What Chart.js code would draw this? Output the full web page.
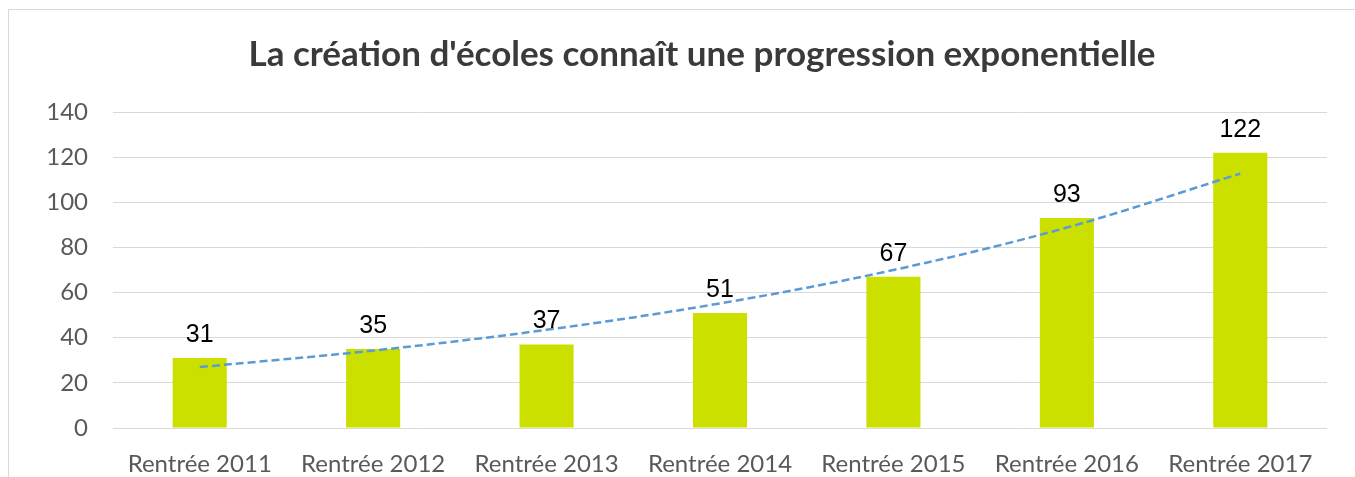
<!DOCTYPE html>
<html>
<head>
<meta charset="utf-8">
<script src="https://cdn.jsdelivr.net/npm/chart.js@4"></script>
<style>
  html, body { margin: 0; padding: 0; background: #fff; }
  #frame {
    position: absolute; left: 8px; top: 9px; width: 1400px; height: 500px;
    border-left: 1px solid #d9d9d9; border-top: 1px solid #d9d9d9;
  }
  #chart { position: absolute; left: 0; top: 0; }
</style>
</head>
<body>
<div id="frame"></div>
<canvas id="chart" width="1355" height="477"></canvas>
<script>
const titleText = "La création d'écoles connaît une progression exponentielle";
const categories = [
  "Rentrée 2011",
  "Rentrée 2012",
  "Rentrée 2013",
  "Rentrée 2014",
  "Rentrée 2015",
  "Rentrée 2016",
  "Rentrée 2017",
];
const schools = [31, 35, 37, 51, 67, 93, 122];
// exponential trend line
const trend = [27, 34.3, 43.5, 55.2, 70, 88.8, 112.7];
const yTicks = [0, 20, 40, 60, 80, 100, 120, 140];

// draws the value above each bar
const barLabels = {
  id: "barLabels",
  afterDatasetsDraw(chart) {
    const ctx = chart.ctx;
    const meta = chart.getDatasetMeta(0);
    ctx.save();
    ctx.font = "25px 'Liberation Sans', Arial, sans-serif";
    ctx.fillStyle = "#000000";
    ctx.textAlign = "center";
    ctx.textBaseline = "alphabetic";
    meta.data.forEach((bar, i) => {
      ctx.fillText(schools[i], bar.x, bar.y - 16);
    });
    ctx.restore();
  },
};

// title is centred on the whole frame, not on the plot, so draw it by hand
const frameTitle = {
  id: "frameTitle",
  afterDraw(chart) {
    const ctx = chart.ctx;
    ctx.save();
    ctx.font = "bold 35px Lato, 'Open Sans', sans-serif";
    ctx.fillStyle = "#3a3a3a";
    ctx.textAlign = "center";
    ctx.textBaseline = "middle";
    ctx.fillText(titleText, 702, 55);
    ctx.restore();
  },
};

const ctx = document.getElementById("chart").getContext("2d");
new Chart(ctx, {
  type: "bar",
  data: {
    labels: categories,
    datasets: [
      {
        label: "Écoles",
        data: schools,
        backgroundColor: "#cce000",
        barPercentage: 0.312,
        categoryPercentage: 1,
        order: 1,
      },
      {
        type: "line",
        label: "Tendance",
        data: trend,
        borderColor: "#5b9bd5",
        borderWidth: 2.5,
        borderDash: [8, 4],
        pointRadius: 0,
        tension: 0.35,
        fill: false,
        order: 0,
      },
    ],
  },
  options: {
    responsive: false,
    animation: false,
    layout: { padding: { left: 0, right: 28, top: 112, bottom: 0 } },
    plugins: {
      legend: { display: false },
      tooltip: { enabled: false },
      title: { display: false },
    },
    scales: {
      x: {
        grid: { display: false },
        border: { display: false },
        ticks: {
          color: "#595959",
          font: { family: "Lato, 'Open Sans', sans-serif", size: 24 },
          padding: 14,
          maxRotation: 0,
        },
        afterFit(scale) {
          scale.height = 49;
        },
      },
      y: {
        min: 0,
        max: 140,
        afterBuildTicks(scale) {
          scale.ticks = yTicks.map((v) => ({ value: v }));
        },
        grid: { color: "#d9d9d9", drawTicks: false, lineWidth: 1 },
        border: { display: false },
        ticks: {
          color: "#595959",
          font: { family: "Lato, 'Open Sans', sans-serif", size: 24 },
          padding: 25,
        },
        afterFit(scale) {
          scale.width = 113;
        },
      },
    },
  },
  plugins: [barLabels, frameTitle],
});
</script>
</body>
</html>
